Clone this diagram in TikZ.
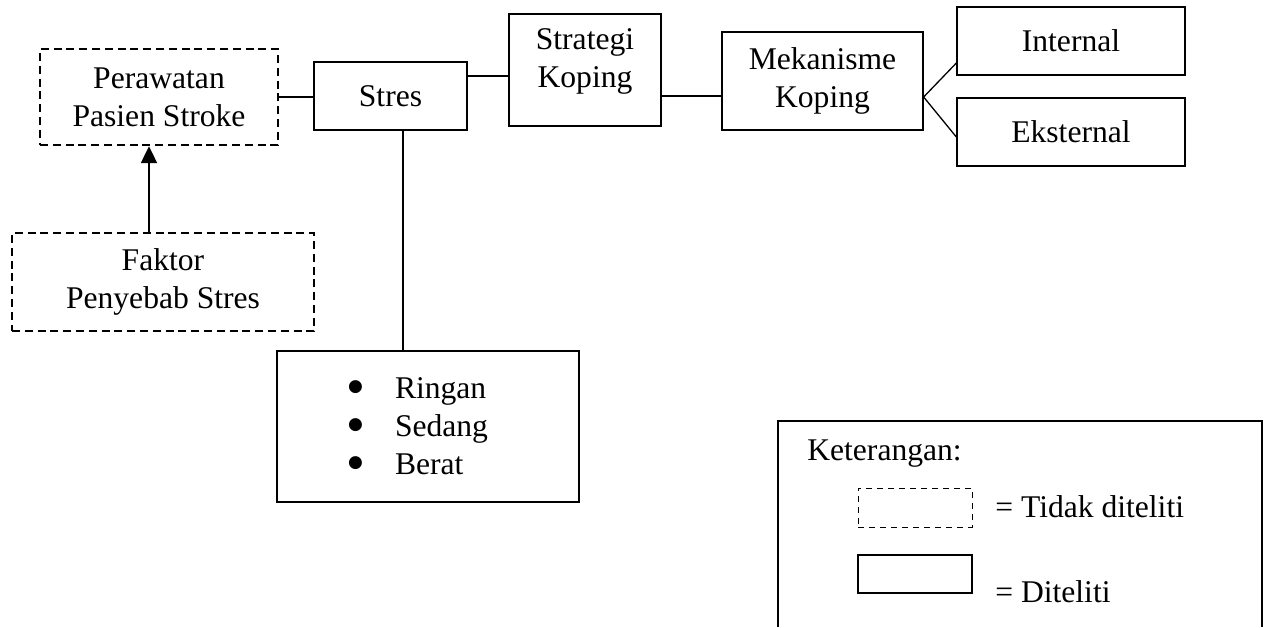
\documentclass[tikz,border=0pt]{standalone}
\usepackage{fontspec}
\setmainfont{Liberation Serif}
\newfontfamily\symfont{DejaVu Sans}
\usetikzlibrary{arrows.meta}

\newcommand{\bigbullet}{\makebox[23.5pt][l]{\raisebox{3.6pt}{\symfont\fontsize{8.5}{8.5}\selectfont ●}}}

\begin{document}
\begin{tikzpicture}[x=0.5pt, y=-0.5pt, line width=0.65pt,
		every node/.style={font=\fontsize{15.8}{19}\selectfont},
		box/.style={draw, rectangle, inner sep=0pt, align=center},
		dashbox/.style={box, line width=1.2pt, dash pattern=on 4pt off 2.4pt}]
		\useasboundingbox (0,0) rectangle (1264,627);
		% tidak diteliti
		\node[dashbox, minimum width=119pt, minimum height=48pt] (perawatan) at (159,97) {Perawatan\\Pasien Stroke};
		\node[dashbox, minimum width=151pt, minimum height=49pt] (faktor) at (163,282) {Faktor\\Penyebab Stres};
		% diteliti
		\node[box, minimum width=76.5pt, minimum height=34pt] (stres) at (390.5,96) {Stres};
		\node[box, minimum width=76pt, minimum height=56pt] (strategi) at (585,70) {};
		\node[align=center] (strategitxt) at (585,61) {Strategi\\Koping};
		\node[box, minimum width=100.5pt, minimum height=49pt] (mekanisme) at (822.5,81) {Mekanisme\\Koping};
		\node[box, minimum width=114pt, minimum height=34pt] (internal) at (1071,41) {Internal};
		\node[box, minimum width=114pt, minimum height=34pt] (eksternal) at (1071,132) {Eksternal};
		\node[box, minimum width=151pt, minimum height=75.5pt, text width=151pt, align=left] (tingkat) at (428,426.5)
			{\hspace*{35.5pt}\bigbullet Ringan\\
			 \hspace*{35.5pt}\bigbullet Sedang\\
			 \hspace*{35.5pt}\bigbullet Berat};
		% connectors
		\draw (perawatan.east) -- (perawatan.east -| stres.west);
		\coordinate (s1) at ([yshift=10pt]stres.east);
		\draw (s1) -- (s1 -| strategi.west);
		\coordinate (m1) at ([yshift=-7.5pt]mekanisme.west);
		\draw (m1 -| strategi.east) -- (m1);
		\coordinate (m2) at ([yshift=-8pt]mekanisme.east);
		\draw ([yshift=-11pt]internal.west) -- (m2) -- ([yshift=-2.5pt]eksternal.west);
		\coordinate (s2) at ([xshift=6.25pt]stres.south);
		\draw (s2) -- (s2 |- tingkat.north);
		\coordinate (f1) at ([xshift=-7pt]faktor.north);
		\draw[line width=1.1pt, -{Triangle[length=8.5pt, width=8pt]}] (f1) -- (f1 |- perawatan.south);
		% keterangan
		\draw (778,627) |- (1262,421) -- (1262,627);
		\node[anchor=base west] (ket) at (800,460) {Keterangan:};
		\node[box, line width=0.5pt, dash pattern=on 3pt off 2.5pt, minimum width=57pt, minimum height=19.5pt] (legtidak) at (915,507.5) {};
		\node[anchor=base west] (tidaktxt) at (988,517) {= Tidak diteliti};
		\node[box, minimum width=57pt, minimum height=19pt] (legditeliti) at (915,574) {};
		\node[anchor=base west] (diteliti) at (988,602) {= Diteliti};
	\end{tikzpicture}
\end{document}
